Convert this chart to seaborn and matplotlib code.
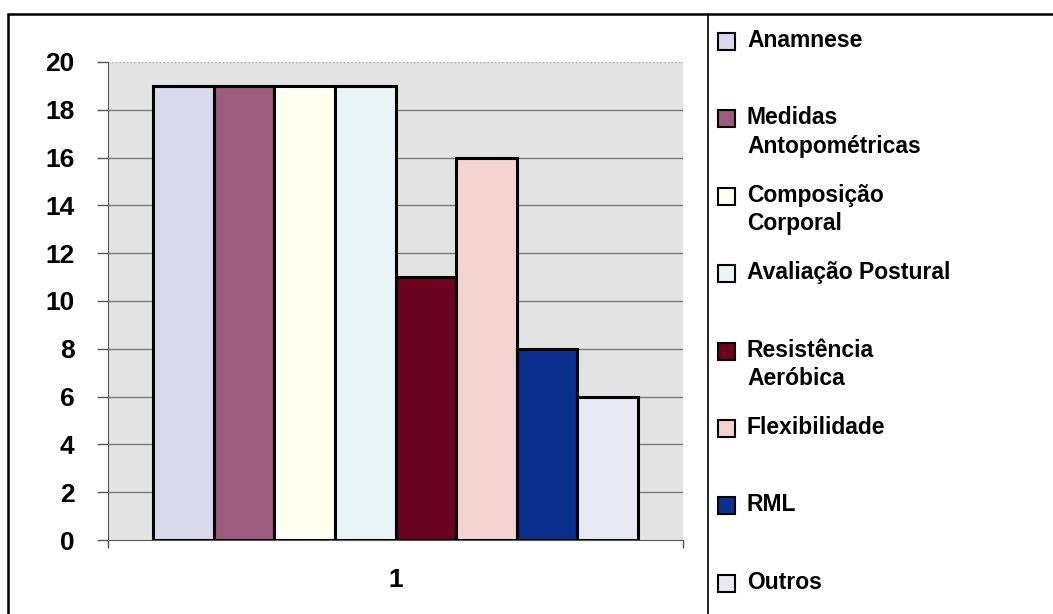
import matplotlib
matplotlib.use("Agg")
import matplotlib.pyplot as plt
import matplotlib.patches as mpatches
import seaborn as sns
import pandas as pd

# dados
categorias = ["Anamnese", "Medidas\nAntopométricas", "Composição\nCorporal",
              "Avaliação Postural", "Resistência\nAeróbica", "Flexibilidade",
              "RML", "Outros"]
valores = [19, 19, 19, 19, 11, 16, 8, 6]
grupo = ["1"] * len(valores)
cores = ["#d9d9ec", "#9c5a7c", "#fffff2", "#e9f4f7",
         "#6b0322", "#f2d3cf", "#0b2f8e", "#e9e9f3"]

df = pd.DataFrame({"grupo": grupo, "valor": valores, "categoria": categorias})

sns.set_style("white")
plt.rcParams["font.family"] = ["Liberation Sans", "DejaVu Sans"]
plt.rcParams["text.color"] = "black"
plt.rcParams["xtick.color"] = "black"
plt.rcParams["ytick.color"] = "black"

W, H = 1053, 614
fig = plt.figure(figsize=(W / 100, H / 100), dpi=100)
ax = fig.add_axes([108 / W, 1 - 540 / H, (683 - 108) / W, (540 - 62) / H])
ax.set_facecolor("#e3e3e3")

sns.barplot(data=df, x="grupo", y="valor", hue="categoria", hue_order=categorias,
            palette=cores, saturation=1, edgecolor="black", linewidth=2.2,
            width=0.843, gap=0, legend=False, ax=ax, zorder=3)

ax.set_xlim(-0.5, 0.5)
ax.set_ylim(0, 20)
ax.set_yticks(range(0, 21, 2))
ax.set_xlabel("")
ax.set_ylabel("")
for y in range(2, 20, 2):
    ax.axhline(y, color="#7a7a7a", lw=1, zorder=1)
ax.axhline(20, color="#aaaaaa", lw=1, ls=":", zorder=1)

for s in ["top", "right"]:
    ax.spines[s].set_visible(False)
ax.spines["left"].set_color("#555555")
ax.spines["bottom"].set_color("#555555")
ax.tick_params(axis="y", direction="out", length=8, width=1, color="#555555",
               pad=16, labelsize=19, left=True)
ax.tick_params(axis="x", which="major", length=0, pad=20, labelsize=19)
ax.set_xticks([-0.5, 0.5], minor=True)
ax.tick_params(axis="x", which="minor", length=6, width=1, color="#555555",
               bottom=True, direction="out")
for lbl in ax.get_xticklabels() + ax.get_yticklabels():
    lbl.set_fontweight("bold")

# moldura e divisória
fig.add_artist(mpatches.Rectangle((8 / W, -0.05), 1.1, 1 - 14 / H + 0.05,
                                  transform=fig.transFigure, fill=False,
                                  edgecolor="black", lw=1.8))
fig.add_artist(plt.Line2D([708 / W, 708 / W], [0, 1 - 14 / H],
                          transform=fig.transFigure, color="black", lw=1.2))

# legenda
passo = 77.4
for i, (nome, cor) in enumerate(zip(categorias, cores)):
    topo = 33 + i * passo
    fig.add_artist(mpatches.Rectangle((718 / W, 1 - (topo + 17) / H), 17 / W, 17 / H,
                                      transform=fig.transFigure, facecolor=cor,
                                      edgecolor="black", lw=1.5))
    fig.text(747 / W, 1 - (topo - 4) / H, nome, fontsize=16.5, va="top",
             ha="left", linespacing=1.3, fontweight="bold")

fig.savefig("out.png", dpi=100)
